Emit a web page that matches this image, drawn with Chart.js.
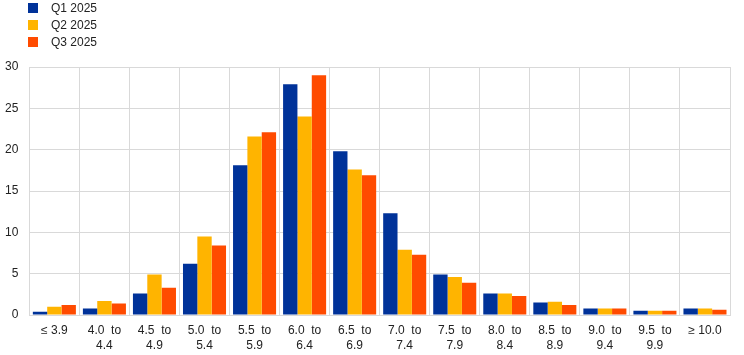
<!DOCTYPE html>
<html>
<head>
<meta charset="utf-8">
<script src="https://cdn.jsdelivr.net/npm/chart.js@4/dist/chart.umd.min.js"></script>
<style>
  body { margin: 0; background: #fff; }
  #wrap { position: relative; width: 744px; height: 355px; }
  #legend { position: absolute; left: 28px; top: 2px; font: 12px "Liberation Sans", Arial, sans-serif; color: #222; }
  #legend div { height: 17px; line-height: 13px; }
  #legend span { display: inline-block; width: 10px; height: 10px; margin-right: 13px; vertical-align: -1px; }
</style>
</head>
<body>
<div id="wrap">
  <canvas id="chart" width="744" height="355"></canvas>
  <div id="legend"></div>
</div>
<script>
// catégories et séries
const categories = [
  ["\u2264 3.9"], ["4.0  to", "4.4"], ["4.5  to", "4.9"], ["5.0  to", "5.4"], ["5.5  to", "5.9"],
  ["6.0  to", "6.4"], ["6.5  to", "6.9"], ["7.0  to", "7.4"], ["7.5  to", "7.9"], ["8.0  to", "8.4"],
  ["8.5  to", "8.9"], ["9.0  to", "9.4"], ["9.5  to", "9.9"], ["\u2265 10.0"]
];
const q1 = [0.4, 0.8, 2.6, 6.2, 18.1, 27.9, 19.8, 12.3, 4.9, 2.6, 1.5, 0.8, 0.5, 0.8];
const q2 = [1.0, 1.7, 4.9, 9.5, 21.6, 24.0, 17.6, 7.9, 4.6, 2.6, 1.6, 0.8, 0.5, 0.8];
const q3 = [1.2, 1.4, 3.3, 8.4, 22.1, 29.0, 16.9, 7.3, 3.9, 2.3, 1.2, 0.8, 0.5, 0.65];
const seriesNames = ["Q1 2025", "Q2 2025", "Q3 2025"];
const colors = ["#003299", "#FFB400", "#FF4B00"];

// légende à la main (verticale)
let legend = document.getElementById("legend");
for (let i = 0; i < seriesNames.length; i++) {
  let row = document.createElement("div");
  row.innerHTML = '<span style="background:' + colors[i] + '"></span>' + seriesNames[i];
  legend.appendChild(row);
}

Chart.defaults.font.family = '"Liberation Sans", Arial, sans-serif';
Chart.defaults.font.size = 12;
Chart.defaults.color = "#222";

const myChart = new Chart(document.getElementById("chart"), {
  type: "bar",
  data: {
    labels: categories,
    datasets: [
      { label: seriesNames[0], data: q1, backgroundColor: colors[0] },
      { label: seriesNames[1], data: q2, backgroundColor: colors[1] },
      { label: seriesNames[2], data: q3, backgroundColor: colors[2] }
    ]
  },
  options: {
    responsive: false,
    animation: false,
    layout: { padding: { top: 67, left: -6, right: 14, bottom: -6 } },
    plugins: { legend: { display: false }, tooltip: { enabled: false } },
    datasets: { bar: { categoryPercentage: 0.86, barPercentage: 1.0 } },
    scales: {
      x: {
        grid: { color: "#d9d9d9", lineWidth: 1, drawTicks: false, offset: true },
        border: { color: "#d9d9d9" },
        ticks: { padding: 8, maxRotation: 0, autoSkip: false, font: { lineHeight: 1.25 } }
      },
      y: {
        min: 0, max: 30,
        grid: { color: "#d9d9d9", lineWidth: 1, drawTicks: false },
        border: { color: "#d9d9d9" },
        ticks: { stepSize: 5, padding: 11 }
      }
    }
  }
});
</script>
</body>
</html>
